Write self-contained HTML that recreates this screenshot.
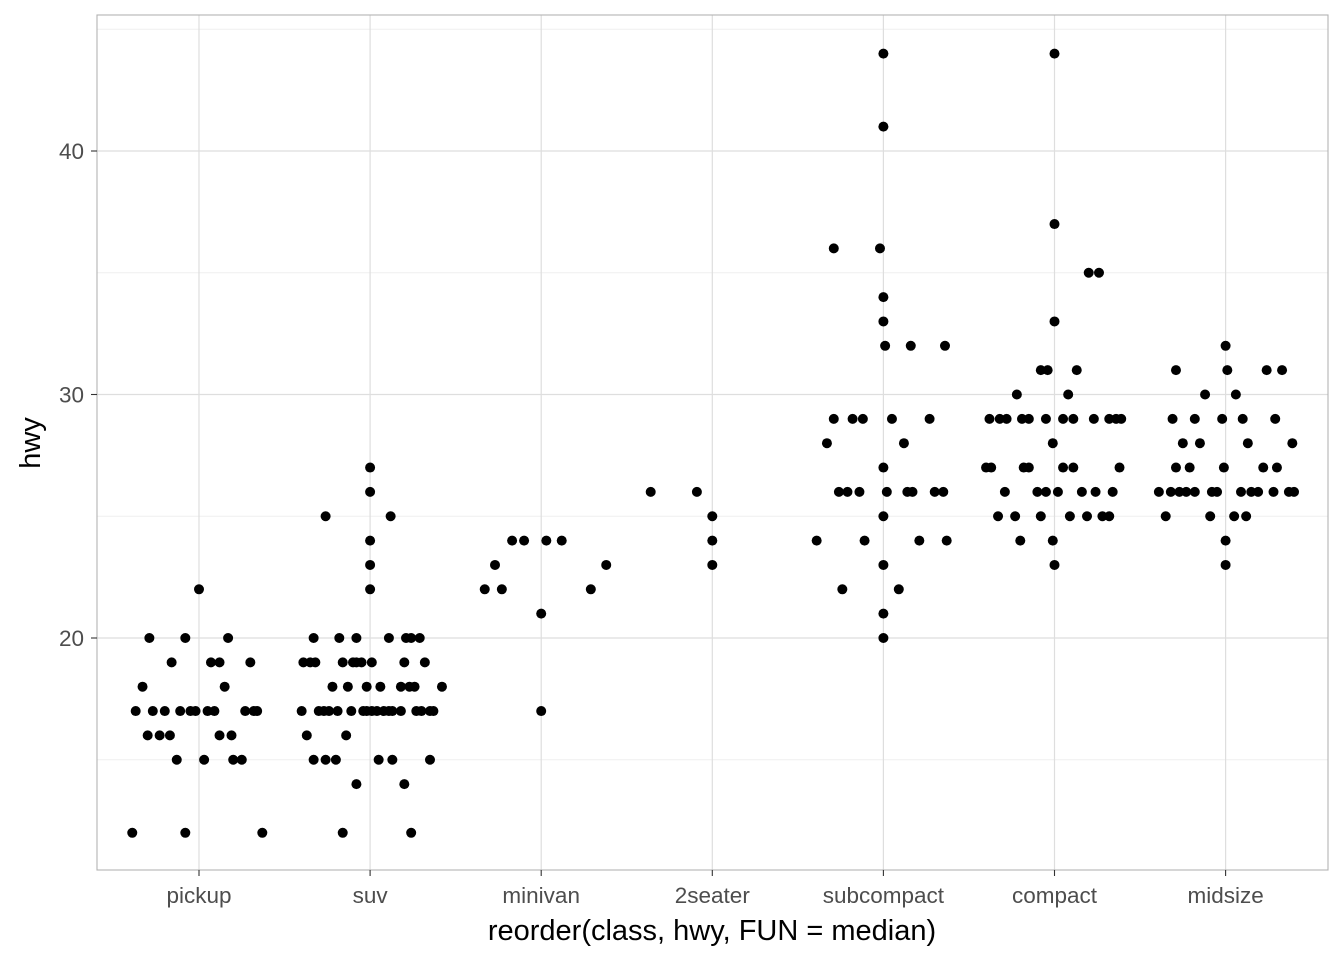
<!DOCTYPE html>
<html><head><meta charset="utf-8">
<style>
html,body{margin:0;padding:0;background:#fff;}
svg{display:block;font-family:"Liberation Sans",Arial,sans-serif;}
</style></head>
<body>
<svg id="chart" width="1344" height="960" viewBox="0 0 1344 960">
<rect x="0" y="0" width="1344" height="960" fill="#fff"/>
<g id="grid"></g>
<g id="points"></g>
<rect x="97" y="15" width="1231" height="855" fill="none" stroke="#b3b3b3" stroke-width="1.1"/>
<g id="axes"></g>
<text x="712" y="940" text-anchor="middle" font-size="29" fill="#000">reorder(class, hwy, FUN = median)</text>
<text x="0" y="0" transform="translate(40,443) rotate(-90)" text-anchor="middle" font-size="29" fill="#000">hwy</text>
</svg>
<script>
const categories = ["pickup","suv","minivan","2seater","subcompact","compact","midsize"];
const yTicks = [20,30,40];
const yMinor = [15,25,35,45];
const hwyPickup = [12,12,12,15,15,15,15,16,16,16,16,16,17,17,17,17,17,17,17,17,17,17,17,18,18,19,19,19,19,20,20,20,22];
const jitPickup = [-0.39,-0.08,0.37,-0.13,0.03,0.20,0.25,-0.30,-0.23,-0.17,0.12,0.19,-0.37,-0.27,-0.20,-0.11,-0.05,-0.02,0.05,0.09,0.27,0.32,0.34,-0.33,0.15,-0.16,0.07,0.12,0.30,-0.29,-0.08,0.17,0];
const hwySuv = [12,12,14,14,15,15,15,15,15,15,16,16,17,17,17,17,17,17,17,17,17,17,17,17,17,17,17,17,17,17,18,18,18,18,18,18,18,18,19,19,19,19,19,19,19,19,19,19,20,20,20,20,20,20,20,22,23,24,25,25,26,27];
const jitSuv = [-0.16,0.24,-0.08,0.20,-0.33,-0.26,-0.20,0.05,0.13,0.35,-0.37,-0.14,-0.40,-0.30,-0.27,-0.24,-0.19,-0.11,-0.04,-0.02,0.01,0.04,0.08,0.11,0.13,0.18,0.27,0.30,0.35,0.37,-0.22,-0.13,-0.02,0.06,0.18,0.23,0.26,0.42,-0.39,-0.35,-0.32,-0.16,-0.10,-0.08,-0.05,0.01,0.20,0.32,-0.33,-0.18,-0.08,0.11,0.21,0.24,0.29,0,0,0,-0.26,0.12,0,0];
const hwyMinivan = [17,21,22,22,22,23,23,24,24,24,24];
const jitMinivan = [0,0,-0.33,-0.23,0.29,-0.27,0.38,-0.17,-0.10,0.03,0.12];
const hwy2seater = [26,26,25,24,23];
const jit2seater = [-0.36,-0.09,0,0,0];
const hwySubcompact = [20,21,22,22,23,24,24,24,24,25,26,26,26,26,26,26,26,26,27,28,28,29,29,29,29,29,32,32,32,33,34,36,36,41,44];
const jitSubcompact = [0,0,-0.24,0.09,0,-0.39,-0.11,0.21,0.37,0,-0.26,-0.21,-0.14,0.02,0.14,0.17,0.30,0.35,0,-0.33,0.12,-0.29,-0.18,-0.12,0.05,0.27,0.01,0.16,0.36,0,0,-0.29,-0.02,0,0];
const hwyCompact = [23,24,24,25,25,25,25,25,25,25,26,26,26,26,26,26,26,27,27,27,27,27,27,27,28,29,29,29,29,29,29,29,29,29,29,29,29,30,30,31,31,31,33,35,35,37,44];
const jitCompact = [0,-0.20,-0.01,-0.33,-0.23,-0.08,0.09,0.19,0.28,0.32,-0.29,-0.10,-0.05,0.02,0.16,0.24,0.34,-0.40,-0.37,-0.18,-0.15,0.05,0.11,0.38,-0.01,-0.38,-0.32,-0.28,-0.19,-0.15,-0.05,0.05,0.11,0.23,0.32,0.36,0.39,-0.22,0.08,-0.08,-0.04,0.13,0,0.20,0.26,0,0];
const hwyMidsize = [23,24,25,25,25,25,26,26,26,26,26,26,26,26,26,26,26,26,26,27,27,27,27,27,28,28,28,28,29,29,29,29,29,30,30,31,31,31,31,32];
const jitMidsize = [0,0,-0.35,-0.09,0.05,0.12,-0.39,-0.32,-0.27,-0.23,-0.18,-0.08,-0.05,0.09,0.15,0.19,0.28,0.37,0.40,-0.29,-0.21,-0.01,0.22,0.30,-0.25,-0.15,0.13,0.39,-0.31,-0.18,-0.02,0.10,0.29,-0.12,0.06,-0.29,0.01,0.24,0.33,0];

const hwySeries = [hwyPickup,hwySuv,hwyMinivan,hwy2seater,hwySubcompact,hwyCompact,hwyMidsize];
const jitSeries = [jitPickup,jitSuv,jitMinivan,jit2seater,jitSubcompact,jitCompact,jitMidsize];

const NS="http://www.w3.org/2000/svg";
const xScale = v => 199 + v*171.1;
const yScale = v => 638 - (v-20)*24.35;
function mk(tag, attrs, parent){const e=document.createElementNS(NS,tag);for(const k in attrs)e.setAttribute(k,attrs[k]);parent.appendChild(e);return e;}
const grid=document.getElementById('grid'), pts=document.getElementById('points'), axes=document.getElementById('axes');

yMinor.forEach(v=>{
  const l=mk('line',{x1:97,x2:1328,y1:yScale(v),y2:yScale(v),stroke:'#efefef','stroke-width':1},grid);
  
  
});
yTicks.forEach(v=>{
  const l=mk('line',{x1:97,x2:1328,y1:yScale(v),y2:yScale(v),stroke:'#dedede','stroke-width':1.2},grid);
  
  
  const t=mk('line',{x1:91,x2:97,y1:yScale(v),y2:yScale(v),stroke:'#333','stroke-width':1.1},axes);
  
  
  const tx=mk('text',{x:84,y:yScale(v)+8,'text-anchor':'end','font-size':22.5,fill:'#4d4d4d'},axes);
  tx.textContent=v;
  
  
});
categories.forEach((c,i)=>{
  const x=xScale(i);
  const l=mk('line',{x1:x,x2:x,y1:15,y2:870,stroke:'#dedede','stroke-width':1.2},grid);
  
  
  const t=mk('line',{x1:x,x2:x,y1:870,y2:876,stroke:'#333','stroke-width':1.1},axes);
  
  
  const tx=mk('text',{x:x,y:903,'text-anchor':'middle','font-size':22.5,fill:'#4d4d4d'},axes);
  tx.textContent=c;
  
  
  hwySeries[i].forEach((h,j)=>{
    const p=mk('circle',{cx:xScale(i+jitSeries[i][j]),cy:yScale(h),r:5,fill:'#000'},pts);
    
    
  });
});
</script>
</body></html>
